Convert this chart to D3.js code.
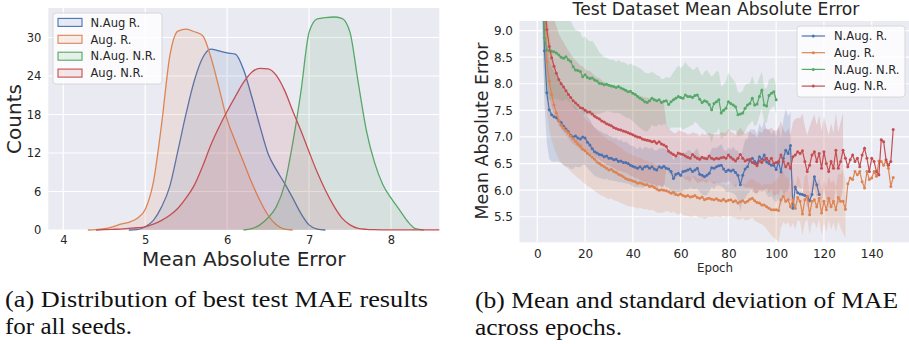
<!DOCTYPE html>
<html>
<head>
<meta charset="utf-8">
<script src="https://cdn.jsdelivr.net/npm/d3@7"></script>
<style>
  body { margin: 0; background: #fff; }
  svg text { font-family: 'DejaVu Sans', sans-serif; fill: #262626; }
  svg text.caption { font-family: 'Liberation Serif', serif; fill: #111; }
</style>
</head>
<body>
<svg id="chart" width="909" height="344"></svg>
<script>
// Series names and colours (seaborn "deep").
const kdeNames = ['N.Aug R.', 'Aug. R.', 'N.Aug. N.R.', 'Aug. N.R.']
const lineNames = ['N.Aug. R.', 'Aug. R.', 'N.Aug. N.R.', 'Aug. N.R.']
const colors = ['#4c72b0', '#dd8452', '#55a868', '#c44e52']

// (a) KDE of best test MAE.
const kdeX = [4.3, 4.4, 4.5, 4.6, 4.7, 4.8, 4.9, 5.0, 5.1, 5.2, 5.3, 5.4, 5.5, 5.6, 5.7,
  5.8, 5.9, 6.0, 6.1, 6.2, 6.3, 6.4, 6.5, 6.6, 6.7, 6.8, 6.9, 7.0, 7.1, 7.2, 7.3, 7.4,
  7.5, 7.6, 7.7, 7.8, 7.9, 8.0, 8.1, 8.2, 8.3, 8.4, 8.5, 8.6]
const kdeNAugR = [0, 0, 0, 0, 0, 0, 0.05, 0.5, 1.5, 3.6, 6.8, 12.4, 18.2, 23.3, 26.8,
  28.2, 27.9, 27.6, 27.4, 25.0, 20.8, 16.2, 11.9, 9.4, 7.3, 5.0, 2.6, 0.8, 0.15, 0, 0, 0,
  0, 0, 0, 0, 0, 0, 0, 0, 0, 0, 0, 0]
const kdeAugR = [0, 0.05, 0.2, 0.5, 0.9, 1.2, 1.8, 3.2, 7.5, 16.5, 27.1, 31.0, 31.3, 30.9, 30.3,
  27.0, 22.2, 17.2, 13.8, 10.6, 7.4, 4.6, 2.3, 0.8, 0.15, 0, 0, 0, 0, 0, 0, 0,
  0, 0, 0, 0, 0, 0, 0, 0, 0, 0, 0, 0]
const kdeNAugNR = [0, 0, 0, 0, 0, 0, 0, 0, 0, 0, 0, 0, 0, 0, 0,
  0, 0, 0, 0, 0, 0.2, 0.8, 1.9, 3.6, 7.0, 13.5, 21.5, 30.8, 32.9, 33.1, 33.2, 33.0,
  30.8, 23.0, 15.5, 10.5, 7.1, 5.0, 3.2, 1.4, 0.2, 0, 0, 0]
const kdeAugNR = [0, 0, 0.05, 0.1, 0.15, 0.25, 0.35, 0.5, 0.9, 1.5, 2.3, 3.4, 5.0, 7.0, 9.9,
  13.2, 16.0, 18.5, 20.8, 23.0, 24.6, 25.2, 25.1, 24.1, 21.8, 18.6, 15.5, 12.2, 9.0, 6.2, 3.8, 1.9,
  0.8, 0.25, 0.1, 0.05, 0.03, 0.02, 0.02, 0.02, 0.02, 0.02, 0.02, 0.02]
const kdeXTicks = [4, 5, 6, 7, 8]
const kdeYTicks = [0, 6, 12, 18, 24, 30]

// (b) Mean test MAE per epoch (index = epoch).
const meanNAugR = [17.5, 13.2, 10.6,
  8.62, 7.83, 7.51, 7.42, 7.38, 7.36, 7.31, 7.27,
  7.20, 7.15, 7.10, 7.03, 7.00, 7.02, 6.98, 6.96, 7.00, 6.98,
  6.90, 6.85, 6.78, 6.72, 6.70, 6.67, 6.66, 6.63, 6.64, 6.60,
  6.60, 6.57, 6.58, 6.54, 6.55, 6.52, 6.52, 6.50, 6.47, 6.45,
  6.43, 6.41, 6.44, 6.40, 6.44, 6.45, 6.41, 6.44, 6.40, 6.38,
  6.44, 6.42, 6.45, 6.41, 6.40, 6.35, 6.22, 6.30, 6.32, 6.28,
  6.35, 6.36, 6.38, 6.40, 6.35, 6.38, 6.41, 6.30, 6.28, 6.25,
  6.28, 6.32, 6.42, 6.41, 6.44, 6.46, 6.47, 6.40, 6.35, 6.38,
  6.36, 6.38, 6.33, 6.28, 6.10, 6.28, 6.40, 6.44, 6.56, 6.60,
  6.54, 6.50, 6.63, 6.58, 6.66, 6.53, 6.50, 6.47, 6.47, 6.39,
  6.53, 6.34, 6.60, 6.75, 6.69, 6.84, 5.66, 6.06, 5.95, 5.93,
  5.92, 5.90, 5.88, 5.80, 5.92, 6.25, 6.10, 5.92]
const meanAugR = [19.0, 14.5, 11.6, 9.9,
  8.42, 8.05, 7.80, 7.60, 7.45, 7.32, 7.22,
  7.17, 7.12, 7.08, 7.02, 6.97, 6.92, 6.87, 6.83, 6.77, 6.74,
  6.69, 6.66, 6.62, 6.58, 6.53, 6.50, 6.47, 6.44, 6.41, 6.38,
  6.39, 6.35, 6.33, 6.30, 6.28, 6.25, 6.22, 6.20, 6.19, 6.17,
  6.16, 6.13, 6.14, 6.12, 6.10, 6.10, 6.07, 6.08, 6.05, 6.02,
  6.00, 6.01, 6.00, 5.99, 5.97, 5.94, 5.96, 5.92, 5.91, 5.93,
  5.90, 5.88, 5.90, 5.87, 5.88, 5.90, 5.86, 5.85, 5.87, 5.82,
  5.84, 5.85, 5.83, 5.82, 5.84, 5.81, 5.80, 5.83, 5.79, 5.81,
  5.82, 5.78, 5.80, 5.76, 5.78, 5.80, 5.77, 5.79, 5.83, 5.85,
  5.80, 5.77, 5.76, 5.72, 5.72, 5.69, 5.66, 5.63, 5.63, 5.63,
  5.62, 5.82, 5.88, 5.79, 5.82, 5.69, 5.82, 5.66, 5.86, 5.79,
  5.55, 5.82, 5.88, 5.54, 5.79, 5.82, 5.69, 5.85, 5.57, 5.79,
  5.63, 5.85, 5.69, 5.79, 5.63, 5.86, 5.79, 5.79, 5.64, 6.12,
  6.23, 6.20, 6.35, 6.29, 6.35, 6.16, 6.04, 6.35, 6.20, 6.23,
  6.35, 6.26, 6.55, 6.54, 6.47, 6.54, 6.41, 6.07, 6.24]
const meanNAugNR = [16.0, 12.5, 10.3,
  8.86, 8.64, 8.62, 8.61, 8.60, 8.58, 8.54, 8.50,
  8.48, 8.51, 8.45, 8.42, 8.32, 8.26, 8.25, 8.23, 8.13, 8.17,
  8.12, 8.10, 8.11, 8.07, 8.05, 8.01, 8.00, 7.98, 7.99, 7.97,
  7.96, 7.95, 7.93, 7.95, 7.92, 7.90, 7.88, 7.85, 7.86, 7.82,
  7.80, 7.76, 7.73, 7.70, 7.66, 7.65, 7.68, 7.73, 7.70, 7.68,
  7.70, 7.65, 7.67, 7.68, 7.61, 7.66, 7.70, 7.73, 7.76, 7.74,
  7.73, 7.79, 7.76, 7.76, 7.74, 7.78, 7.79, 7.71, 7.65, 7.68,
  7.66, 7.61, 7.51, 7.63, 7.66, 7.70, 7.45, 7.50, 7.54, 7.66,
  7.63, 7.60, 7.57, 7.42, 7.43, 7.45, 7.54, 7.60, 7.63, 7.73,
  7.60, 7.62, 7.76, 7.88, 7.60, 7.58, 7.78, 7.82, 7.85, 7.70]
const meanAugNR = [18.0, 14.0, 11.2, 9.8,
  9.02, 8.70, 8.49, 8.33, 8.20, 8.08, 8.00,
  7.94, 7.87, 7.80, 7.74, 7.68, 7.64, 7.60, 7.55, 7.54, 7.50,
  7.47, 7.47, 7.43, 7.39, 7.36, 7.34, 7.30, 7.28, 7.25, 7.23,
  7.21, 7.18, 7.16, 7.14, 7.13, 7.11, 7.10, 7.08, 7.06, 7.04,
  7.02, 7.00, 6.99, 6.96, 6.95, 6.94, 6.93, 6.91, 6.92, 6.88,
  6.91, 6.87, 6.85, 6.82, 6.73, 6.70, 6.67, 6.64, 6.70, 6.68,
  6.67, 6.64, 6.62, 6.60, 6.67, 6.63, 6.60, 6.58, 6.62, 6.60,
  6.59, 6.64, 6.60, 6.58, 6.60, 6.59, 6.61, 6.62, 6.60, 6.66,
  6.62, 6.58, 6.55, 6.60, 6.67, 6.60, 6.55, 6.57, 6.58, 6.52,
  6.50, 6.46, 6.55, 6.52, 6.57, 6.60, 6.54, 6.60, 6.50, 6.52,
  6.54, 6.66, 6.54, 6.44, 6.50, 6.41, 6.63, 6.66, 6.72, 6.69,
  6.74, 6.54, 6.35, 6.47, 6.66, 6.72, 6.54, 6.69, 6.41, 6.72,
  6.50, 6.35, 6.54, 6.41, 6.75, 6.41, 6.54, 6.75, 6.60, 6.44,
  6.57, 6.66, 6.54, 6.60, 6.44, 6.66, 6.79, 6.60, 6.35, 6.60,
  6.54, 6.35, 6.29, 6.95, 6.91, 6.57, 6.47, 6.54, 7.14]

// (b) Standard deviation per epoch (band ends where only one seed is left).
const stdNAugR = [2.0, 1.5, 1.2,
  1.00, 0.95, 0.92, 0.88, 0.85, 0.82, 0.78, 0.75,
  0.72, 0.70, 0.66, 0.63, 0.60, 0.57, 0.55, 0.53, 0.52, 0.50,
  0.49, 0.48, 0.46, 0.46, 0.45, 0.44, 0.44, 0.43, 0.42, 0.42,
  0.41, 0.40, 0.41, 0.39, 0.40, 0.38, 0.39, 0.38, 0.37, 0.38,
  0.37, 0.36, 0.38, 0.36, 0.37, 0.35, 0.37, 0.36, 0.35, 0.36,
  0.35, 0.37, 0.34, 0.36, 0.35, 0.38, 0.34, 0.36, 0.35, 0.33,
  0.36, 0.34, 0.37, 0.35, 0.33, 0.36, 0.38, 0.34, 0.36, 0.35,
  0.37, 0.34, 0.36, 0.39, 0.35, 0.37, 0.40, 0.36, 0.38, 0.42,
  0.40, 0.44, 0.42, 0.46, 0.50, 0.48, 0.55, 0.52, 0.58, 0.54,
  0.60, 0.55, 0.62, 0.58, 0.65, 0.60, 0.64, 0.58, 0.66, 0.62,
  0.68, 0.64, 0.72, 0.78, 0.70, 0.62]
const stdAugR = [2.0, 1.6, 1.3, 1.1,
  0.95, 0.90, 0.85, 0.80, 0.77, 0.74, 0.72,
  0.70, 0.69, 0.68, 0.67, 0.66, 0.65, 0.64, 0.63, 0.62, 0.62,
  0.61, 0.60, 0.60, 0.59, 0.58, 0.58, 0.57, 0.56, 0.56, 0.55,
  0.54, 0.54, 0.53, 0.52, 0.52, 0.51, 0.50, 0.50, 0.49, 0.49,
  0.48, 0.48, 0.47, 0.47, 0.46, 0.46, 0.45, 0.45, 0.44, 0.44,
  0.43, 0.43, 0.42, 0.38, 0.37, 0.37, 0.36, 0.36, 0.37, 0.36,
  0.37, 0.36, 0.38, 0.37, 0.38, 0.37, 0.36, 0.37, 0.38, 0.37,
  0.36, 0.35, 0.34, 0.33, 0.33, 0.32, 0.31, 0.31, 0.30, 0.30,
  0.31, 0.30, 0.32, 0.31, 0.33, 0.32, 0.34, 0.35, 0.37, 0.36,
  0.38, 0.37, 0.38, 0.36, 0.40, 0.42, 0.45, 0.48, 0.52, 0.56,
  0.60, 0.52, 0.48, 0.44, 0.42, 0.40, 0.44, 0.40, 0.42, 0.38,
  0.40, 0.44, 0.42, 0.38, 0.40, 0.43, 0.41, 0.39, 0.42, 0.40,
  0.43, 0.41, 0.44, 0.40, 0.42, 0.45, 0.50, 0.60, 0.55]
const stdNAugNR = [2.0, 1.6, 1.2,
  1.00, 0.95, 0.92, 0.90, 0.88, 0.86, 0.84, 0.82,
  0.80, 0.79, 0.78, 0.77, 0.76, 0.75, 0.74, 0.74, 0.73, 0.72,
  0.71, 0.70, 0.70, 0.68, 0.62, 0.58, 0.55, 0.52, 0.50, 0.49,
  0.49, 0.50, 0.48, 0.50, 0.49, 0.50, 0.51, 0.50, 0.52, 0.53,
  0.54, 0.55, 0.56, 0.56, 0.55, 0.55, 0.52, 0.50, 0.50, 0.48,
  0.45, 0.44, 0.42, 0.45, 0.50, 0.48, 0.52, 0.55, 0.58, 0.56,
  0.60, 0.62, 0.58, 0.55, 0.52, 0.50, 0.54, 0.52, 0.50, 0.55,
  0.60, 0.58, 0.62, 0.55, 0.58, 0.52, 0.50, 0.48, 0.52, 0.55,
  0.50, 0.48, 0.45, 0.42, 0.40, 0.42, 0.44, 0.40, 0.38, 0.42,
  0.40, 0.38, 0.36, 0.35, 0.33, 0.32, 0.30, 0.28, 0.27, 0.26]
const stdAugNR = [2.0, 1.6, 1.3, 1.1,
  1.00, 0.95, 0.92, 0.90, 0.88, 0.86, 0.85,
  0.84, 0.83, 0.82, 0.82, 0.81, 0.80, 0.80, 0.79, 0.79, 0.78,
  0.78, 0.77, 0.77, 0.76, 0.76, 0.77, 0.76, 0.76, 0.77, 0.76,
  0.77, 0.76, 0.77, 0.78, 0.77, 0.78, 0.77, 0.78, 0.79, 0.78,
  0.79, 0.78, 0.79, 0.80, 0.79, 0.80, 0.79, 0.80, 0.81, 0.80,
  0.81, 0.80, 0.80, 0.42, 0.40, 0.42, 0.41, 0.43, 0.42, 0.44,
  0.42, 0.44, 0.43, 0.45, 0.42, 0.44, 0.46, 0.43, 0.45, 0.44,
  0.46, 0.44, 0.45, 0.47, 0.45, 0.46, 0.48, 0.46, 0.47, 0.49,
  0.48, 0.50, 0.49, 0.51, 0.50, 0.52, 0.50, 0.53, 0.52, 0.54,
  0.55, 0.53, 0.56, 0.55, 0.58, 0.56, 0.60, 0.58, 0.62, 0.60,
  0.62, 0.64, 0.60, 0.63, 0.66, 0.62, 0.65, 0.68, 0.64, 0.66,
  0.70, 0.66, 0.68, 0.72, 0.66, 0.70, 0.68, 0.72, 0.70, 0.66,
  0.70, 0.68, 0.72, 0.66, 0.70, 0.68, 0.74, 0.70]
const epochTicks = [0, 20, 40, 60, 80, 100, 120, 140]
const maeTicks = [5.5, 6.0, 6.5, 7.0, 7.5, 8.0, 8.5, 9.0]

const svg = d3.select('#chart')
const bg = '#eaeaf2'

// Axis helper: no tick marks, no domain line (seaborn darkgrid look).
function styleAxis(g, size) {
  g.select('.domain').remove()
  g.selectAll('text')
    .attr('fill', '#262626')
    .style('font-size', size + 'px')
    .style('font-family', "'DejaVu Sans', sans-serif")
}

// ----- (a) KDE panel -----
const L = { left: 48.3, right: 439.3, top: 8, bottom: 230 }
const xL = d3.scaleLinear().domain([3.817, 8.59]).range([L.left, L.right])
const yL = d3.scaleLinear().domain([0, 34.6]).range([L.bottom, L.top])

svg.append('rect')
  .attr('x', L.left).attr('y', L.top)
  .attr('width', L.right - L.left).attr('height', L.bottom - L.top)
  .attr('fill', bg)

svg.append('defs').append('clipPath').attr('id', 'clipL')
  .append('rect')
  .attr('x', L.left).attr('y', L.top)
  .attr('width', L.right - L.left).attr('height', L.bottom - L.top + 1)

// Grid.
svg.append('g').selectAll('line').data(kdeXTicks).join('line')
  .attr('x1', d => xL(d)).attr('x2', d => xL(d))
  .attr('y1', L.top).attr('y2', L.bottom)
  .attr('stroke', '#fff').attr('stroke-width', 1.2)
svg.append('g').selectAll('line').data(kdeYTicks).join('line')
  .attr('x1', L.left).attr('x2', L.right)
  .attr('y1', d => yL(d)).attr('y2', d => yL(d))
  .attr('stroke', '#fff').attr('stroke-width', 1.2)

const kdeSeries = [kdeNAugR, kdeAugR, kdeNAugNR, kdeAugNR]
const kdeG = svg.append('g').attr('clip-path', 'url(#clipL)')

kdeSeries.forEach((ys, k) => {
  // Keep only the support of each curve (plus one zero on each side).
  let first = ys.findIndex(v => v > 0)
  let last = ys.length - 1 - [...ys].reverse().findIndex(v => v > 0)
  first = Math.max(0, first - 1)
  last = Math.min(ys.length - 1, last + 1)
  const pts = d3.range(first, last + 1).map(i => [kdeX[i], ys[i]])

  const area = d3.area()
    .x(d => xL(d[0])).y0(yL(0)).y1(d => yL(d[1]))
    .curve(d3.curveMonotoneX)
  const line = d3.line()
    .x(d => xL(d[0])).y(d => yL(d[1]))
    .curve(d3.curveMonotoneX)

  kdeG.append('path').datum(pts)
    .attr('d', area)
    .attr('fill', colors[k]).attr('fill-opacity', 0.13)
  kdeG.append('path').datum(pts)
    .attr('d', line)
    .attr('fill', 'none').attr('stroke', colors[k]).attr('stroke-width', 1.3)
})

svg.append('g')
  .attr('transform', 'translate(0,' + L.bottom + ')')
  .call(d3.axisBottom(xL).tickValues(kdeXTicks).tickFormat(d3.format('d')).tickSize(0).tickPadding(6))
  .call(g => styleAxis(g, 11.5))
svg.append('g')
  .attr('transform', 'translate(' + L.left + ',0)')
  .call(d3.axisLeft(yL).tickValues(kdeYTicks).tickSize(0).tickPadding(7))
  .call(g => styleAxis(g, 11.5))

svg.append('text')
  .attr('x', (L.left + L.right) / 2).attr('y', 265.5)
  .attr('text-anchor', 'middle').style('font-size', '20px')
  .text('Mean Absolute Error')
svg.append('text')
  .attr('transform', 'translate(20.5,' + (L.top + L.bottom) / 2 + ') rotate(-90)')
  .attr('text-anchor', 'middle').style('font-size', '20px')
  .text('Counts')

// Legend (a).
const legL = svg.append('g')
legL.append('rect')
  .attr('x', 53).attr('y', 13).attr('width', 109).attr('height', 71).attr('rx', 3)
  .attr('fill', '#fff').attr('fill-opacity', 0.8)
  .attr('stroke', '#d0d0d0').attr('stroke-width', 0.8)
kdeNames.forEach((name, k) => {
  const cy = 22.4 + k * 16.9
  legL.append('rect')
    .attr('x', 58).attr('y', cy - 4).attr('width', 24).attr('height', 8)
    .attr('fill', colors[k]).attr('fill-opacity', 0.13)
    .attr('stroke', colors[k]).attr('stroke-width', 1.1)
  legL.append('text')
    .attr('x', 90.5).attr('y', cy + 4.2)
    .style('font-size', '11.5px')
    .text(name)
})

// ----- (b) MAE per epoch panel -----
const R = { left: 519.5, right: 911, top: 21, bottom: 242.3 }
const xR = d3.scaleLinear().domain([-7.45, 156.45]).range([R.left, R.right])
const yR = d3.scaleLinear().domain([5.02, 9.18]).range([R.bottom, R.top])

svg.append('rect')
  .attr('x', R.left).attr('y', R.top)
  .attr('width', R.right - R.left).attr('height', R.bottom - R.top)
  .attr('fill', bg)

svg.select('defs').append('clipPath').attr('id', 'clipR')
  .append('rect')
  .attr('x', R.left).attr('y', R.top)
  .attr('width', R.right - R.left).attr('height', R.bottom - R.top)

svg.append('g').selectAll('line').data(epochTicks).join('line')
  .attr('x1', d => xR(d)).attr('x2', d => xR(d))
  .attr('y1', R.top).attr('y2', R.bottom)
  .attr('stroke', '#fff').attr('stroke-width', 1.2)
svg.append('g').selectAll('line').data(maeTicks).join('line')
  .attr('x1', R.left).attr('x2', R.right)
  .attr('y1', d => yR(d)).attr('y2', d => yR(d))
  .attr('stroke', '#fff').attr('stroke-width', 1.2)

const means = [meanNAugR, meanAugR, meanNAugNR, meanAugNR]
const stds = [stdNAugR, stdAugR, stdNAugNR, stdAugNR]
const plotR = svg.append('g').attr('clip-path', 'url(#clipR)')

// Bands first (below all lines, as in matplotlib).
means.forEach((m, k) => {
  const pts = stds[k].map((s, i) => [i, m[i], s])
  plotR.append('path').datum(pts)
    .attr('d', d3.area()
      .x(d => xR(d[0]))
      .y0(d => yR(d[1] - d[2]))
      .y1(d => yR(d[1] + d[2])))
    .attr('fill', colors[k]).attr('fill-opacity', 0.2)
})

means.forEach((m, k) => {
  const pts = m.map((v, i) => [i, v])
  plotR.append('path').datum(pts)
    .attr('d', d3.line().x(d => xR(d[0])).y(d => yR(d[1])))
    .attr('fill', 'none').attr('stroke', colors[k]).attr('stroke-width', 1.2)
  plotR.append('g').selectAll('circle').data(pts).join('circle')
    .attr('cx', d => xR(d[0])).attr('cy', d => yR(d[1])).attr('r', 1.5)
    .attr('fill', colors[k])
})

svg.append('g')
  .attr('transform', 'translate(0,' + R.bottom + ')')
  .call(d3.axisBottom(xR).tickValues(epochTicks).tickSize(0).tickPadding(7))
  .call(g => styleAxis(g, 12))
svg.append('g')
  .attr('transform', 'translate(' + R.left + ',0)')
  .call(d3.axisLeft(yR).tickValues(maeTicks).tickFormat(d3.format('.1f')).tickSize(0).tickPadding(6.5))
  .call(g => styleAxis(g, 12))

svg.append('text')
  .attr('x', 716).attr('y', 15)
  .attr('text-anchor', 'middle').style('font-size', '17.2px')
  .text('Test Dataset Mean Absolute Error')
svg.append('text')
  .attr('x', 715).attr('y', 271.5)
  .attr('text-anchor', 'middle').style('font-size', '11.8px')
  .text('Epoch')
svg.append('text')
  .attr('transform', 'translate(488,131) rotate(-90)')
  .attr('text-anchor', 'middle').style('font-size', '17.4px')
  .text('Mean Absolute Error')

// Legend (b).
const legR = svg.append('g')
legR.append('rect')
  .attr('x', 797).attr('y', 26).attr('width', 108).attr('height', 71).attr('rx', 3)
  .attr('fill', '#fff').attr('fill-opacity', 0.8)
  .attr('stroke', '#d0d0d0').attr('stroke-width', 0.8)
lineNames.forEach((name, k) => {
  const cy = 36 + k * 16.7
  legR.append('line')
    .attr('x1', 801.7).attr('x2', 825).attr('y1', cy).attr('y2', cy)
    .attr('stroke', colors[k]).attr('stroke-width', 1.2)
  legR.append('circle')
    .attr('cx', 813.3).attr('cy', cy).attr('r', 1.5).attr('fill', colors[k])
  legR.append('text')
    .attr('x', 834).attr('y', cy + 4.2)
    .style('font-size', '11.5px')
    .text(name)
})

// Sub-figure captions.
const captions = [
  { text: '(a) Distribution of best test MAE results', x: 5, y: 306.5, w: 423 },
  { text: 'for all seeds.', x: 5, y: 333.5, w: 127 },
  { text: '(b) Mean and standard deviation of MAE', x: 475, y: 308, w: 423 },
  { text: 'across epochs.', x: 475, y: 335, w: 147 }
]
captions.forEach(c => {
  svg.append('text')
    .attr('class', 'caption')
    .attr('x', c.x).attr('y', c.y)
    .attr('textLength', c.w).attr('lengthAdjust', 'spacingAndGlyphs')
    .style('font-size', '23.5px')
    .text(c.text)
})
</script>
</body>
</html>
